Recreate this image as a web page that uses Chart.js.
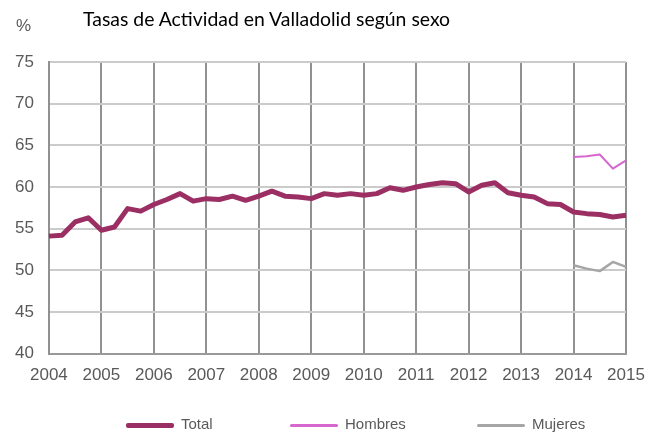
<!DOCTYPE html>
<html>
<head>
<meta charset="utf-8">
<script src="https://cdn.jsdelivr.net/npm/chart.js@4"></script>
<style>
  body { margin: 0; background: #fff; }
  #wrap { position: relative; width: 659px; height: 432px; }
  #title { position: absolute; left: 83px; top: 7px; font: 19.4px Lato, "Noto Sans", sans-serif; color: #000; white-space: nowrap; }
  #unit { position: absolute; left: 16px; top: 16px; font: 17px "Liberation Sans", Arial, sans-serif; color: #595959; }
  #legend { position: absolute; left: 0; top: 414px; width: 659px; height: 20px; }
  .item { position: absolute; top: 0; font: 15px "Liberation Sans", Arial, sans-serif; color: #595959; line-height: 20px; white-space: nowrap; }
  .item span { display: inline-block; width: 48px; vertical-align: middle; margin-right: 7px; border-radius: 2px; }
</style>
</head>
<body>
<div id="wrap">
  <canvas id="activityChart" width="659" height="432"></canvas>
  <div id="title">Tasas de Actividad en Valladolid según sexo</div>
  <div id="unit">%</div>
  <div id="legend"></div>
</div>
<script>
// quarterly labels 2004 T1 .. 2015 T1
var quarters = [
    '2004 T1', '2004 T2', '2004 T3', '2004 T4',
    '2005 T1', '2005 T2', '2005 T3', '2005 T4',
    '2006 T1', '2006 T2', '2006 T3', '2006 T4',
    '2007 T1', '2007 T2', '2007 T3', '2007 T4',
    '2008 T1', '2008 T2', '2008 T3', '2008 T4',
    '2009 T1', '2009 T2', '2009 T3', '2009 T4',
    '2010 T1', '2010 T2', '2010 T3', '2010 T4',
    '2011 T1', '2011 T2', '2011 T3', '2011 T4',
    '2012 T1', '2012 T2', '2012 T3', '2012 T4',
    '2013 T1', '2013 T2', '2013 T3', '2013 T4',
    '2014 T1', '2014 T2', '2014 T3', '2014 T4',
    '2015 T1'
];

var total = [
    54.1, 54.2, 55.8, 56.3,
    54.8, 55.2, 57.4, 57.1,
    57.9, 58.5, 59.2, 58.3,
    58.6, 58.5, 58.9, 58.4,
    58.9, 59.5, 58.9, 58.8,
    58.6, 59.2, 59.0, 59.2,
    59.0, 59.2, 59.9, 59.6,
    60.0, 60.3, 60.5, 60.4,
    59.4, 60.2, 60.5, 59.3,
    59.0, 58.8, 58.0, 57.9,
    57.0, 56.8, 56.7, 56.4,
    56.6
];

// only published from 2014 on
var hombres = [
    null, null, null, null, null, null, null, null, null, null,
    null, null, null, null, null, null, null, null, null, null,
    null, null, null, null, null, null, null, null, null, null,
    null, null, null, null, null, null, null, null, null, null,
    63.6, 63.7, 63.9, 62.2, 63.2
];

var mujeres = [
    null, null, null, null, null, null, null, null, null, null,
    null, null, null, null, null, null, null, null, null, null,
    null, null, null, null, null, null, null, null, null, null,
    null, null, null, null, null, null, null, null, null, null,
    50.6, 50.2, 49.9, 51.0, 50.4
];

var seriesNames = ['Total', 'Hombres', 'Mujeres'];
var seriesColors = ['#9b2f63', '#d766cf', '#a6a6a6'];
var seriesWidths = [5, 2, 2.5];

var yMin = 40, yMax = 75, yStep = 5;

var tickFont = { family: 'Liberation Sans, Arial, sans-serif', size: 17 };

var ctx = document.getElementById('activityChart').getContext('2d');
var activityChart = new Chart(ctx, {
    type: 'line',
    data: {
        labels: quarters,
        datasets: [total, hombres, mujeres].map(function(values, i) {
            return {
                label: seriesNames[i],
                data: values,
                borderColor: seriesColors[i],
                backgroundColor: seriesColors[i],
                borderWidth: seriesWidths[i],
                borderJoinStyle: 'round',
                borderCapStyle: 'butt',
                pointRadius: 0,
                tension: 0,
                fill: false
            };
        })
    },
    options: {
        responsive: false,
        animation: false,
        layout: { padding: { top: 62, left: 0, right: 33, bottom: 34 } },
        plugins: {
            legend: { display: false },
            tooltip: { enabled: false }
        },
        scales: {
            x: {
                offset: false,
                border: { display: true, color: '#999999', width: 2 },
                grid: {
                    drawTicks: false,
                    lineWidth: 2,
                    color: function(c) {
                        return c.index % 4 === 0 ? '#919191' : 'rgba(0,0,0,0)';
                    }
                },
                ticks: {
                    autoSkip: false,
                    maxRotation: 0,
                    padding: 12,
                    color: '#595959',
                    font: tickFont,
                    callback: function(value, index) {
                        return index % 4 === 0 ? quarters[index].slice(0, 4) : '';
                    }
                }
            },
            y: {
                min: yMin,
                max: yMax,
                border: { display: true, color: '#919191', width: 2 },
                grid: { drawTicks: false, lineWidth: 2, color: '#cbcbcb' },
                ticks: {
                    stepSize: yStep,
                    padding: 15,
                    color: '#595959',
                    font: tickFont
                }
            }
        }
    }
});

// legend below the axis
var legendLeft = [126, 290, 477];
var legend = document.getElementById('legend');
seriesNames.forEach(function(name, i) {
    var item = document.createElement('div');
    item.className = 'item';
    item.style.left = legendLeft[i] + 'px';
    var swatch = document.createElement('span');
    swatch.style.height = (i === 0 ? 5 : 3) + 'px';
    swatch.style.background = seriesColors[i];
    item.appendChild(swatch);
    item.appendChild(document.createTextNode(name));
    legend.appendChild(item);
});
</script>
</body>
</html>
